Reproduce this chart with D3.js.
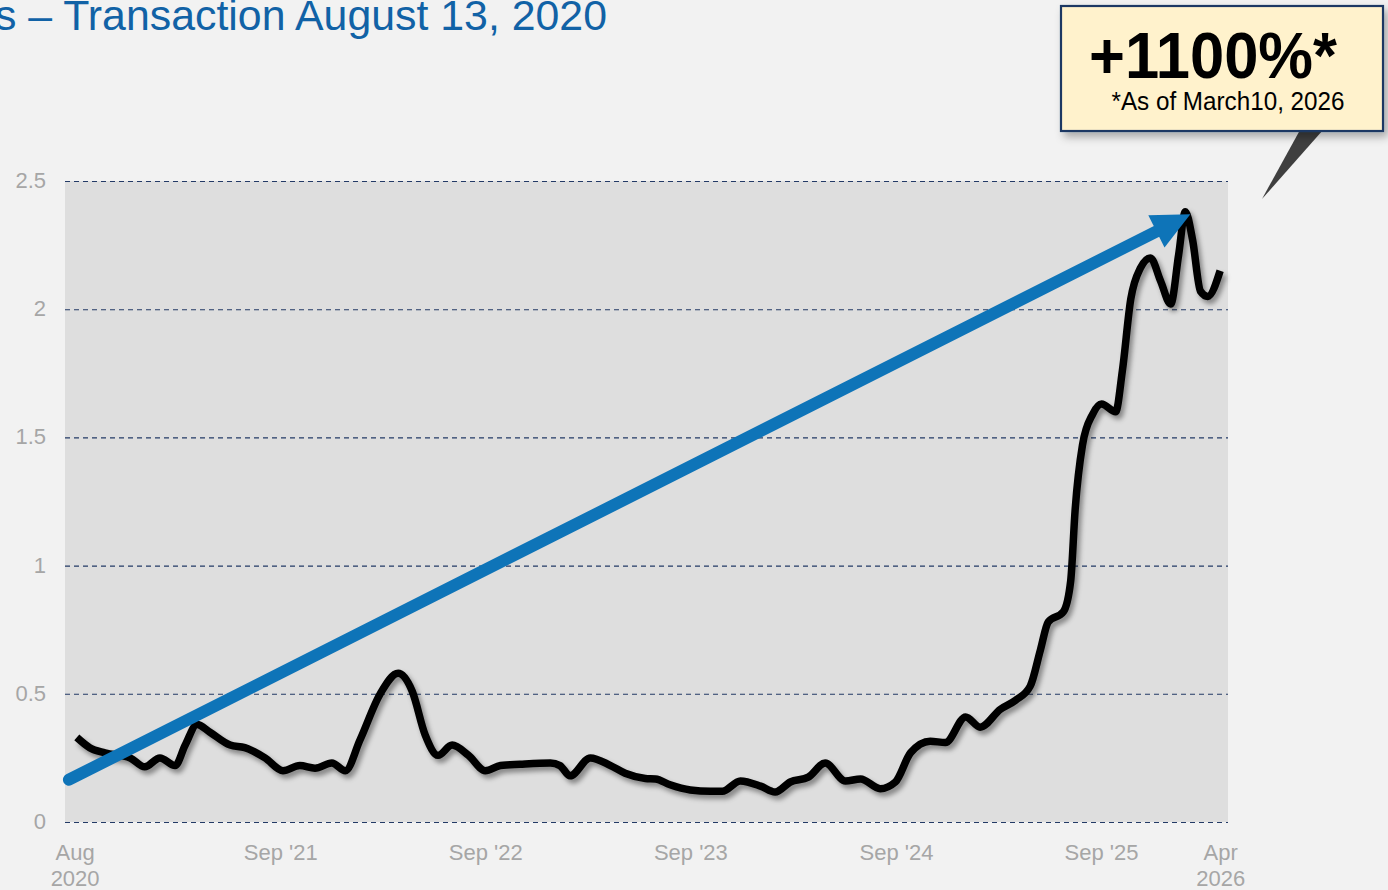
<!DOCTYPE html>
<html><head><meta charset="utf-8">
<script src="https://cdn.jsdelivr.net/npm/d3@7"></script>
<style>html,body{margin:0;padding:0;background:#F2F2F2;}svg{display:block;font-family:"Liberation Sans",Arial,sans-serif;}</style>
</head><body>
<svg id="chart" width="1388" height="890"></svg>
<script>
const dates = ["2020-09-03","2020-09-26","2020-10-23","2020-12-07","2021-01-02","2021-01-29","2021-02-25","2021-03-15","2021-04-05","2021-04-28","2021-06-03","2021-06-29","2021-08-04","2021-09-05","2021-10-05","2021-11-01","2021-12-01","2021-12-25","2022-01-20","2022-02-25","2022-03-29","2022-04-23","2022-05-16","2022-06-08","2022-07-03","2022-08-01","2022-08-31","2022-09-27","2022-11-01","2022-12-25","2023-01-11","2023-01-29","2023-03-06","2023-04-11","2023-05-07","2023-06-12","2023-06-30","2023-07-26","2023-08-31","2023-10-06","2023-10-27","2023-11-28","2024-01-03","2024-01-29","2024-02-25","2024-03-28","2024-04-27","2024-06-02","2024-06-29","2024-08-03","2024-08-30","2024-09-26","2024-10-31","2024-11-27","2025-01-02","2025-01-28","2025-03-05","2025-04-01","2025-04-27","2025-05-15","2025-05-29","2025-06-25","2025-07-08","2025-07-16","2025-07-29","2025-08-16","2025-09-01","2025-09-26","2025-10-08","2025-10-23","2025-11-09","2025-11-27","2025-12-15","2026-01-02","2026-01-16","2026-01-28","2026-02-10","2026-02-24","2026-03-09","2026-03-31"];
const values = [0.33,0.29,0.27,0.25,0.215,0.25,0.22,0.30,0.38,0.35,0.30,0.29,0.25,0.20,0.22,0.21,0.23,0.20,0.32,0.50,0.58,0.51,0.34,0.26,0.30,0.26,0.20,0.22,0.225,0.23,0.22,0.18,0.25,0.22,0.19,0.17,0.168,0.145,0.125,0.12,0.12,0.16,0.14,0.117,0.156,0.175,0.23,0.16,0.168,0.13,0.156,0.27,0.315,0.31,0.41,0.37,0.44,0.475,0.53,0.67,0.78,0.82,0.94,1.22,1.47,1.59,1.63,1.60,1.76,2.04,2.16,2.20,2.11,2.02,2.21,2.38,2.27,2.07,2.05,2.15];
const yTicks = [0,0.5,1,1.5,2,2.5];
const yTickLabels = ["0","0.5","1","1.5","2","2.5"];
const xTickDates = ["2020-08-31","2021-09-01","2022-09-01","2023-09-01","2024-09-01","2025-09-01","2026-04-01"];
const xTickLabels = [["Aug","2020"],["Sep '21"],["Sep '22"],["Sep '23"],["Sep '24"],["Sep '25"],["Apr","2026"]];
const domainDates = ["2020-08-13","2026-04-14"];
const arrowFrom = {date:"2020-08-20", value:0.165};
const arrowTo = {date:"2026-02-06", value:2.37};
const titleText = "s \u2013 Transaction August 13, 2020";
const calloutBig = "+1100%*";
const calloutSmall = "*As of March10, 2026";

const parse = d3.timeParse("%Y-%m-%d");
const data = dates.map((d,i)=>({date:parse(d), value:values[i]}));
const svg = d3.select("#chart");
const L=65,R=1228,T=181,B=822;
const x = d3.scaleTime().domain(domainDates.map(parse)).range([L,R]);
const y = d3.scaleLinear().domain([0,2.5]).range([B,T]);

const defs = svg.append("defs");
const sh = defs.append("filter").attr("id","sh").attr("x","-10%").attr("y","-10%").attr("width","120%").attr("height","120%");
sh.append("feDropShadow").attr("dx",3).attr("dy",4).attr("stdDeviation",2.5).attr("flood-color","#000").attr("flood-opacity",0.4);
const sh2 = defs.append("filter").attr("id","sh2").attr("x","-10%").attr("y","-10%").attr("width","130%").attr("height","140%");
sh2.append("feDropShadow").attr("dx",4).attr("dy",5).attr("stdDeviation",4).attr("flood-color","#000").attr("flood-opacity",0.3);

svg.append("rect").attr("width",1388).attr("height",890).attr("fill","#F2F2F2");
svg.append("rect").attr("x",L).attr("y",T).attr("width",R-L).attr("height",B-T).attr("fill","#DEDEDE");

// title
svg.append("text").attr("x",607).attr("y",30).attr("text-anchor","end")
  .attr("font-size",42).attr("fill","#1162A6").attr("textLength",612).attr("lengthAdjust","spacingAndGlyphs")
  .text(titleText);

// grid
svg.append("g").selectAll("line").data(yTicks).join("line")
  .attr("x1",L).attr("x2",R).attr("y1",d=>y(d)+0.5).attr("y2",d=>y(d)+0.5)
  .attr("stroke","#233A66").attr("stroke-width",1.1).attr("stroke-dasharray","5,4");

// y labels
svg.append("g").selectAll("text").data(yTicks).join("text")
  .attr("x",46).attr("y",d=>y(d)+7).attr("text-anchor","end")
  .attr("font-size",22).attr("fill","#A6A6A6").text((d,i)=>yTickLabels[i]);

// x labels
const xl = svg.append("g").selectAll("text").data(xTickDates).join("text")
  .attr("x",d=>x(parse(d))).attr("y",860).attr("text-anchor","middle")
  .attr("font-size",22).attr("fill","#A6A6A6");
xl.each(function(d,i){
  const t=d3.select(this);
  xTickLabels[i].forEach((s,j)=>t.append("tspan").attr("x",x(parse(d))).attr("dy",j?26:0).text(s));
});

// line
const line = d3.line().x(d=>x(d.date)).y(d=>y(d.value)).curve(d3.curveMonotoneX);
svg.append("path").datum(data).attr("d",line).attr("fill","none").attr("stroke","#000")
  .attr("stroke-width",7.5).attr("stroke-linejoin","round").attr("stroke-linecap","butt").attr("filter","url(#sh)");

// arrow
const x0=x(parse(arrowFrom.date)), y0=y(arrowFrom.value), x1=x(parse(arrowTo.date)), y1=y(arrowTo.value);
const ang=Math.atan2(y1-y0,x1-x0), hl=38, hw=18;
const bx=x1-hl*Math.cos(ang), by=y1-hl*Math.sin(ang);
const g=svg.append("g");
g.append("line").attr("x1",x0).attr("y1",y0).attr("x2",bx+3*Math.cos(ang)).attr("y2",by+3*Math.sin(ang))
  .attr("stroke","#0E74B8").attr("stroke-width",12).attr("stroke-linecap","round");
g.append("path").attr("fill","#0E74B8").attr("d",
  `M${x1},${y1}L${bx-hw*Math.sin(ang)},${by+hw*Math.cos(ang)}L${bx+hw*Math.sin(ang)},${by-hw*Math.cos(ang)}Z`);

// callout
svg.append("path").attr("d","M1300,130L1323,130L1262,199Z").attr("fill","#3F3F3F");
svg.append("rect").attr("x",1061).attr("y",6).attr("width",322).attr("height",125)
  .attr("fill","#FFF2CC").attr("stroke","#1F3864").attr("stroke-width",2.2).attr("filter","url(#sh2)");
svg.append("text").attr("x",1213).attr("y",78).attr("text-anchor","middle").attr("font-size",64)
  .attr("font-weight","bold").attr("fill","#000").attr("textLength",248).attr("lengthAdjust","spacingAndGlyphs").text(calloutBig);
svg.append("text").attr("x",1228).attr("y",110).attr("text-anchor","middle").attr("font-size",25)
  .attr("fill","#000").attr("textLength",233).attr("lengthAdjust","spacingAndGlyphs").text(calloutSmall);
</script>
</body></html>
